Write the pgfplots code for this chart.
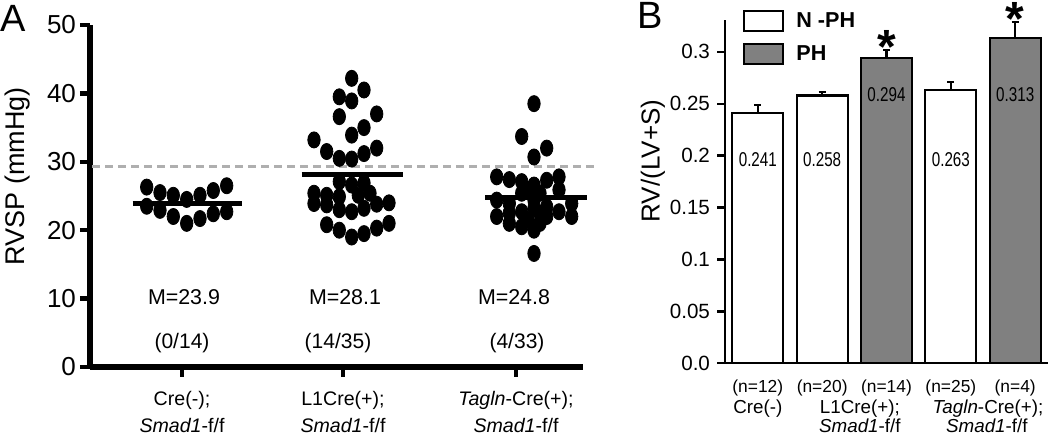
\documentclass[border=0pt]{standalone}
\usepackage{pgfplots}
\pgfplotsset{compat=1.18}
\usepackage{fontspec}
\setmainfont{Liberation Sans}
\newfontfamily\narrowfont[FakeStretch=0.76]{Liberation Sans}
\definecolor{barg}{RGB}{128,128,128}
\definecolor{dashg}{RGB}{175,175,175}

\begin{document}
\begin{tikzpicture}
\useasboundingbox (0,0) rectangle (525pt,219pt);
\node[font=\fontsize{19}{19}\selectfont] at (6.5pt,210pt) {A};
\node[font=\fontsize{19}{19}\selectfont] at (325pt,211.5pt) {B};

% ---------------- Panel A ----------------
\begin{axis}[
  at={(45pt,35.5pt)}, anchor=south west,
  scale only axis, width=246.5pt, height=171pt,
  xmin=0, xmax=4.93, ymin=0, ymax=50,
  axis lines=left, axis line style={line width=2.6pt, -},
  clip=false,
  xtick={0.92,2.53,4.26},
  xticklabels={{Cre(-);\\\textit{Smad1}-f/f},{L1Cre(+);\\\textit{Smad1}-f/f},{\textit{Tagln}-Cre(+);\\\textit{Smad1}-f/f}},
  xticklabel style={align=center, font=\fontsize{9.8}{13.5}\selectfont, yshift=-3.5pt},
  ytick={0,10,20,30,40,50},
  yticklabel style={font=\fontsize{13}{15}\selectfont, xshift=1.5pt},
  /pgf/number format/assume math mode=true,
  tick align=outside, major tick length=5pt,
  tick style={line width=2.2pt, black},
  ylabel={RVSP (mmHg)},
  ylabel style={at={(rel axis cs:-0.148,0.558)}, anchor=center, font=\fontsize{13.5}{15}\selectfont},
]
% group 1: Cre(-)
\addplot[only marks, mark=*, mark size=3.1pt, mark options={yscale=1.3, fill=black, draw=black}] coordinates {
(0.567,26.3) (0.700,25.5) (0.833,25.1) (0.967,24.5) (1.100,25.1) (1.233,25.8) (1.367,26.5)
(0.567,23.5) (0.700,22.9) (0.833,22.0) (0.967,21.0) (1.100,21.7) (1.233,22.4) (1.367,22.7)
};
% group 2: L1Cre(+)
\addplot[only marks, mark=*, mark size=3.1pt, mark options={yscale=1.3, fill=black, draw=black}] coordinates {
(2.617,42.2) (2.493,39.5) (2.617,38.9) (2.740,40.5) (2.493,36.6) (2.867,37.0) (2.617,33.9)
(2.740,35.0) (2.240,33.2) (2.367,31.5) (2.493,30.5) (2.617,30.4) (2.740,31.2) (2.867,32.0)
(2.240,25.4) (2.240,23.9) (2.367,25.1) (2.367,23.7) (2.493,27.1) (2.493,24.9) (2.493,23.0)
(2.617,26.6) (2.617,22.7) (2.683,25.1) (2.740,26.9) (2.740,23.2) (2.800,25.4) (2.867,23.8)
(2.990,24.0)
(2.367,20.8) (2.493,20.0) (2.617,19.0) (2.740,19.5) (2.867,20.3) (2.990,21.0)
};
% group 3: Tagln-Cre(+)
\addplot[only marks, mark=*, mark size=3.1pt, mark options={yscale=1.3, fill=black, draw=black}] coordinates {
(4.440,38.5) (4.317,33.7) (4.567,32.0) (4.440,30.7) (4.440,16.6)
(4.067,27.8) (4.067,24.4) (4.067,22.0)
(4.193,27.4) (4.193,23.9) (4.193,22.5) (4.193,21.0)
(4.317,27.1) (4.317,25.4) (4.317,22.7) (4.317,20.5)
(4.383,25.9) (4.383,21.5)
(4.440,26.6) (4.440,24.4) (4.440,23.2) (4.440,20.0)
(4.500,25.4) (4.500,22.5) (4.500,21.0)
(4.567,27.3) (4.567,23.4) (4.567,22.0)
(4.690,27.8) (4.690,25.9) (4.690,22.7)
(4.817,23.9) (4.817,22.0)
};
% means
\addplot[black, line width=2.6pt] coordinates {(0.427,23.9) (1.517,23.9)};
\addplot[black, line width=2.6pt] coordinates {(2.117,28.1) (3.133,28.1)};
\addplot[black, line width=2.6pt] coordinates {(3.950,24.8) (4.967,24.8)};
% threshold
\addplot[dashg, line width=1.5pt, dash pattern=on 4pt off 2.5pt] coordinates {(0.02,29.3) (5.08,29.3)};

\node[font=\fontsize{10.7}{12}\selectfont] at (axis cs:0.94,10.2) {M=23.9};
\node[font=\fontsize{10.7}{12}\selectfont] at (axis cs:2.55,10.2) {M=28.1};
\node[font=\fontsize{10.7}{12}\selectfont] at (axis cs:4.24,10.2) {M=24.8};
\node[font=\fontsize{10.5}{12}\selectfont] at (axis cs:0.92,3.5) {(0/14)};
\node[font=\fontsize{10.5}{12}\selectfont] at (axis cs:2.48,3.5) {(14/35)};
\node[font=\fontsize{10.5}{12}\selectfont] at (axis cs:4.27,3.5) {(4/33)};
\end{axis}

% ---------------- Panel B ----------------
\begin{axis}[
  at={(362.5pt,37.35pt)}, anchor=south west,
  scale only axis, width=161.5pt, height=171.65pt,
  xmin=0.49, xmax=5.51, ymin=0, ymax=0.3307,
  axis lines=left, axis line style={line width=1.2pt, -},
  clip=false,
  ybar, bar width=25.5pt,
  xtick={1,2,3,4,5},
  xticklabels={(n=12),(n=20),(n=14),(n=25),(n=4)},
  x tick style={draw=none},
  xticklabel style={font=\fontsize{8.7}{10}\selectfont, anchor=base, yshift=-10.5pt},
  ytick={0,0.05,0.1,0.15,0.2,0.25,0.3},
  yticklabels={0.0,0.05,0.1,0.15,0.2,0.25,0.3},
  yticklabel style={font=\fontsize{10.3}{12}\selectfont},
  y tick style={line width=1.2pt, black},
  tick align=outside, major tick length=4pt,
  ylabel={RV/(LV+S)},
  ylabel style={at={(rel axis cs:-0.223,0.589)}, anchor=center, font=\fontsize{13}{15}\selectfont},
  legend image code/.code={\draw[#1, line width=1.1pt] (0pt,-5pt) rectangle (19.5pt,5pt);},
  legend style={at={(rel axis cs:0.055,1.035)}, anchor=north west, draw=none, fill=none,
    font=\bfseries\fontsize{10.8}{12}\selectfont, row sep=3.5pt, column sep=4pt, inner sep=0pt},
  legend cell align=left,
]
\addplot[fill=white, draw=black, line width=1.1pt, bar shift=0pt,
  error bars/.cd, y dir=plus, y explicit,
  error bar style={line width=1.1pt, black},
  error mark options={rotate=90, mark size=1.75pt, line width=1.1pt, black}]
  coordinates {(1,0.241) +- (0,0.0078) (2,0.258) +- (0,0.0034) (4,0.263) +- (0,0.0083)};
\addplot[fill=barg, draw=black, line width=1.1pt, bar shift=0pt,
  error bars/.cd, y dir=plus, y explicit,
  error bar style={line width=1.1pt, black},
  error mark options={rotate=90, mark size=1.75pt, line width=1.1pt, black}]
  coordinates {(3,0.294) +- (0,0.0078) (5,0.313) +- (0,0.0161)};
\legend{N -PH, PH}

\node[font=\narrowfont\fontsize{10}{12}\selectfont] at (axis cs:1,0.1959) {0.241};
\node[font=\narrowfont\fontsize{10}{12}\selectfont] at (axis cs:2,0.1959) {0.258};
\node[font=\narrowfont\fontsize{10}{12}\selectfont] at (axis cs:4,0.1959) {0.263};
\node[font=\narrowfont\fontsize{10}{12}\selectfont] at (axis cs:3,0.2585) {0.294};
\node[font=\narrowfont\fontsize{10}{12}\selectfont] at (axis cs:5,0.2585) {0.313};

\node[font=\bfseries\fontsize{24}{24}\selectfont, inner sep=0pt] at (axis cs:3,0.3050) {*};
\node[font=\bfseries\fontsize{24}{24}\selectfont, inner sep=0pt] at (axis cs:5,0.3320) {*};

\node[font=\fontsize{9.4}{11}\selectfont, anchor=base] at (axis cs:1,-0.0479) {Cre(-)};
\node[font=\fontsize{9.4}{11}\selectfont, anchor=base] at (axis cs:2.586,-0.0479) {L1Cre(+);};
\node[font=\fontsize{9.4}{11}\selectfont, anchor=base] at (axis cs:2.586,-0.0671) {\textit{Smad1}-f/f};
\node[font=\fontsize{9.4}{11}\selectfont, anchor=base] at (axis cs:4.577,-0.0479) {\textit{Tagln}-Cre(+);};
\node[font=\fontsize{9.4}{11}\selectfont, anchor=base] at (axis cs:4.56,-0.0671) {\textit{Smad1}-f/f};
\end{axis}
\end{tikzpicture}
\end{document}
